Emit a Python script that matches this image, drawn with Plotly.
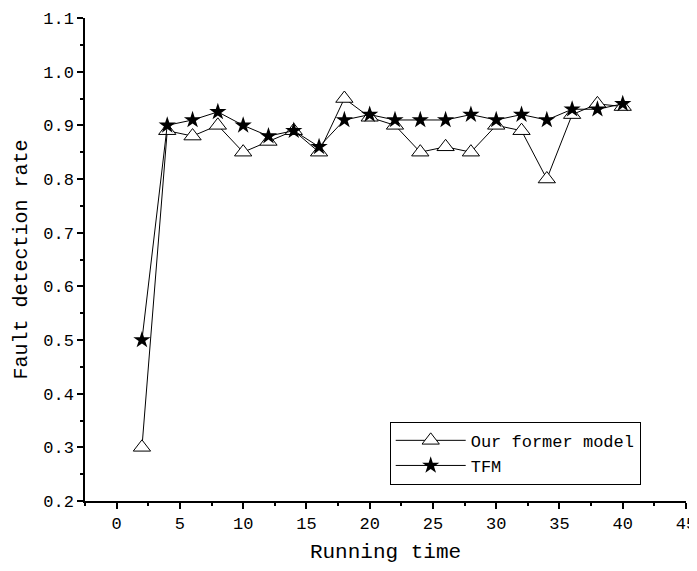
import plotly.graph_objects as go

running_time = [2, 4, 6, 8, 10, 12, 14, 16, 18, 20, 22, 24, 26, 28, 30, 32, 34, 36, 38, 40]
former_model = [0.30, 0.89, 0.88, 0.90, 0.85, 0.87, 0.89, 0.85, 0.95, 0.915,
                0.90, 0.85, 0.86, 0.85, 0.90, 0.89, 0.80, 0.92, 0.94, 0.935]
tfm = [0.50, 0.90, 0.91, 0.925, 0.90, 0.88, 0.89, 0.86, 0.91, 0.92,
       0.91, 0.91, 0.91, 0.92, 0.91, 0.92, 0.91, 0.93, 0.93, 0.94]

FONT = "Liberation Mono"

fig = go.Figure()
fig.add_trace(go.Scatter(
    x=running_time, y=former_model, mode="lines+markers", name="Our former model",
    line=dict(color="black", width=1),
    marker=dict(symbol="triangle-up", size=15, color="white",
                line=dict(color="black", width=1)),
))
fig.add_trace(go.Scatter(
    x=running_time, y=tfm, mode="lines+markers", name="TFM",
    line=dict(color="black", width=1),
    marker=dict(symbol="star", size=13, color="black",
                line=dict(color="black", width=0)),
))

axis_common = dict(
    showline=True, linecolor="black", linewidth=1.5, mirror=False,
    showgrid=False, zeroline=False, automargin=False,
    ticks="outside", ticklen=6, tickwidth=1.5, tickcolor="black",
    tickfont=dict(family=FONT, size=17, color="black"),
)

fig.update_layout(
    width=689, height=563,
    margin=dict(l=77, r=11, t=10, b=70),
    plot_bgcolor="white", paper_bgcolor="white",
    font=dict(family=FONT, color="black"),
    xaxis=dict(
        range=[-2.5, 45], tick0=0, dtick=5,
        title=dict(text="Running time", font=dict(family=FONT, size=21), standoff=10),
        minor=dict(ticks="outside", ticklen=3, tickwidth=1.5, tickcolor="black", dtick=2.5, tick0=0),
        **axis_common,
    ),
    yaxis=dict(
        range=[0.2, 1.1], tick0=0.2, dtick=0.1, tickformat=".1f",
        title=dict(text="Fault detection rate", font=dict(family=FONT, size=20), standoff=10),
        minor=dict(ticks="outside", ticklen=3, tickwidth=1.5, tickcolor="black", dtick=0.05),
        **axis_common,
    ),
    showlegend=True,
    legend=dict(
        x=0.507, y=0.164, xanchor="left", yanchor="top",
        bordercolor="black", borderwidth=1, bgcolor="white",
        font=dict(family=FONT, size=17, color="black"),
        tracegroupgap=0, itemwidth=70,
    ),
)

fig.write_html("out.html")
